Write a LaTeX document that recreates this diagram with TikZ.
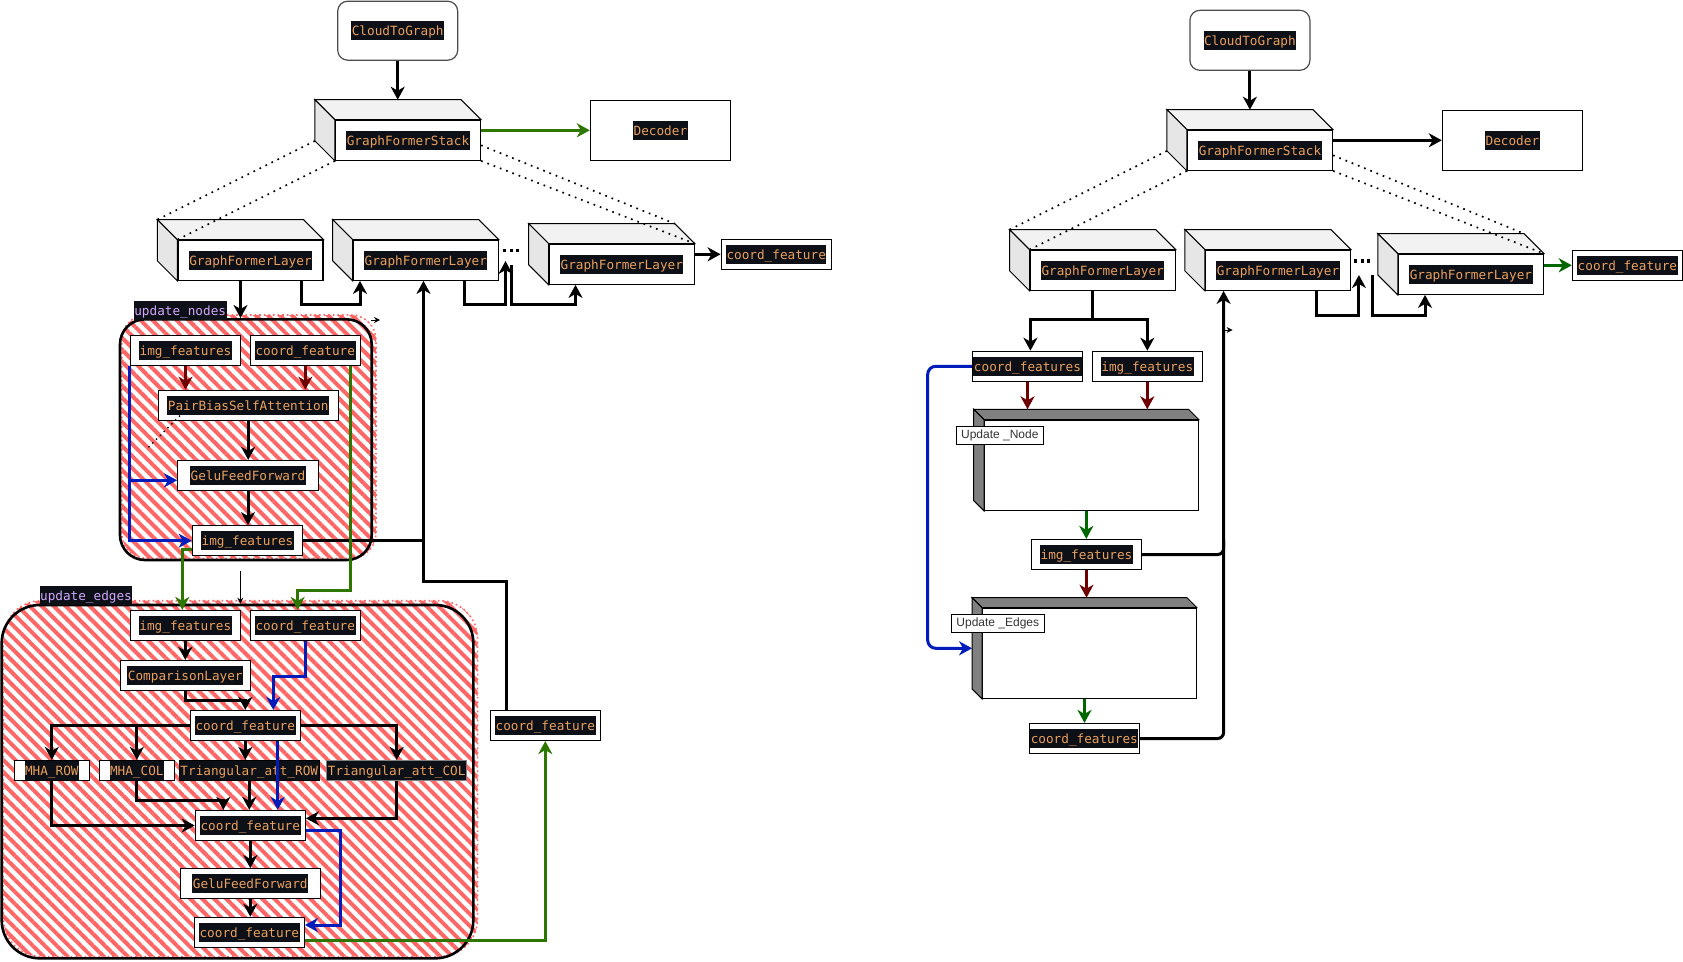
\documentclass[tikz,border=0pt]{standalone}
\usepackage{fontspec}
\setmainfont{Liberation Sans}
\setmonofont{DejaVu Sans Mono}
\usetikzlibrary{arrows.meta,patterns.meta,backgrounds}

\definecolor{codebg}{HTML}{0D1117}
\definecolor{codeor}{HTML}{EBA05C}
\definecolor{codepu}{HTML}{D2A8FF}
\definecolor{hatchred}{HTML}{FF6666}
\definecolor{darkred}{HTML}{6F0000}
\definecolor{flowblue}{HTML}{001DBC}
\definecolor{olivegreen}{HTML}{2D7600}
\definecolor{deepgreen}{HTML}{006600}
\definecolor{topface}{HTML}{F2F2F2}
\definecolor{sideface}{HTML}{E6E6E6}
\definecolor{darkface}{HTML}{808080}

% code-style label: dark strip with coloured monospace text
\newcommand{\codetag}[2]{{\setlength{\fboxsep}{0pt}\colorbox{codebg}{\hspace{0.5pt}\textcolor{#1}{\rule[-4.6pt]{0pt}{19pt}#2}\hspace{0.5pt}}}}
\newcommand{\codelbl}[1]{\codetag{codeor}{#1}}
\newcommand{\codepur}[1]{\codetag{codepu}{#1}}

% cube: name, centre x, centre y (front face), width, height, depth, top colour, side colour, text
\newcommand{\cubebox}[9]{%
  \node[wbox, minimum width=#4pt, minimum height=#5pt] (#1) at (#2,#3) {#9};
  \filldraw[fill=#7, line width=1pt] (#1.north west) -- ++(-#6,-#6) -- ([shift={(-#6,-#6)}]#1.north east) -- (#1.north east) -- cycle;
  \filldraw[fill=#8, line width=1pt] (#1.north west) -- ++(-#6,-#6) -- ([shift={(-#6,-#6)}]#1.south west) -- (#1.south west) -- cycle;
  \coordinate (#1-top) at ([shift={(-#6/2,-#6)}]#1.north);
  \coordinate (#1-bot) at ([shift={(-#6/2,0)}]#1.south);
  \coordinate (#1-lf) at ([shift={(-#6,-#6/2)}]#1.west);
}

\tikzset{
  wbox/.style={draw=black, fill=white, line width=1.2pt, inner sep=0pt},
  ctn/.style={draw=black, line width=2.6pt, inner sep=0pt},
  hatch/.style={pattern={Lines[angle=-45,distance=8.5pt,line width=4pt]}, pattern color=hatchred},
  hatchedge/.style={hatchred, line width=1.6pt, dash pattern=on 1.6pt off 3pt},
  tagbox/.style={draw=black, fill=white, line width=0.8pt, inner sep=0pt, minimum height=17.6pt,
    text=black!80, font=\rmfamily\fontsize{12}{14}\selectfont},
  tip/.style={-{Stealth[length=13pt,width=14pt,inset=4pt]}},
  blk/.style={draw=black, line width=3pt},
  blkarr/.style={blk, tip},
  redarr/.style={draw=darkred, line width=3pt, tip},
  bluearr/.style={draw=flowblue, line width=3pt, tip},
  grnL/.style={draw=olivegreen, line width=3pt, tip},
  grnR/.style={draw=deepgreen, line width=3pt, tip},
  dotline/.style={draw=black, line width=1.7pt, dash pattern=on 1.7pt off 5pt},
  thinarr/.style={draw=black, line width=0.8pt, -{Stealth[length=6pt,width=6pt]}},
}

\begin{document}
\begin{tikzpicture}[x=1pt, y=-1pt, font=\ttfamily\fontsize{12.7}{15}\selectfont]
\useasboundingbox (0,0) rectangle (1683,961);

% ================= left: detailed stack =================
\node[wbox, draw=black!70, rounded corners=10pt, minimum width=120pt, minimum height=59pt] (ctgL) at (397.7,30.7) {\codelbl{CloudToGraph}};
\cubebox{gsL}{408}{140.3}{145}{40}{20}{topface}{sideface}{\codelbl{GraphFormerStack}}
\node[wbox, minimum width=140pt, minimum height=60pt] (decL) at (660.4,130.3) {\codelbl{Decoder}};

\cubebox{glLa}{250.5}{260.3}{145}{40}{20}{topface}{sideface}{\codelbl{GraphFormerLayer}}
\cubebox{glLb}{425.8}{260.3}{145}{40}{20}{topface}{sideface}{\codelbl{GraphFormerLayer}}
\cubebox{glLc}{621.8}{264.3}{145}{40}{20}{topface}{sideface}{\codelbl{GraphFormerLayer}}
\node[wbox, minimum width=110pt, minimum height=30pt] (cfLtop) at (776.2,254.3) {\codelbl{coord\_feature}};
\foreach \i in {0,1,2} \fill (503+6.5*\i,249.2) rectangle ++(3.2,3.2);

% stack to layer guides
\draw[dotline] ([shift={(-20,-20)}]gsL.south west) -- ([shift={(-20,-20)}]glLa.north west);
\draw[dotline] (gsL.south west) -- (glLa.north west);
\draw[dotline] ([shift={(0,5)}]gsL.east) -- ([shift={(-20,-20)}]glLc.north east);
\draw[dotline] (gsL.south east) -- (glLc.north east);

% update_nodes block
\node[ctn, rounded corners=25pt, minimum width=251.7pt, minimum height=240.7pt] (un) at (245.85,439.65) {};
\begin{scope}[on background layer]
  \fill[hatch, rounded corners=25pt] ([shift={(3,-3)}]un.south west) rectangle ([shift={(3,-3)}]un.north east);
  \draw[hatchedge, rounded corners=25pt] ([shift={(3,-3)}]un.south west) rectangle ([shift={(3,-3)}]un.north east);
\end{scope}
\node[inner sep=0pt] (unLbl) at (180.2,310.5) {\codepur{update\_nodes}};

\node[wbox, minimum width=110pt, minimum height=30pt] (unImg1) at (185.5,350.3) {\codelbl{img\_features}};
\node[wbox, minimum width=110pt, minimum height=30pt] (unCf) at (305.3,350.3) {\codelbl{coord\_feature}};
\node[wbox, minimum width=180pt, minimum height=30pt] (unPb) at (248.2,405.3) {\codelbl{PairBiasSelfAttention}};
\node[wbox, minimum width=140.6pt, minimum height=30pt] (unGelu) at (248,475.5) {\codelbl{GeluFeedForward}};
\node[wbox, minimum width=110.4pt, minimum height=30pt] (unImg2) at (247.5,540.7) {\codelbl{img\_features}};

% update_edges block
\node[ctn, rounded corners=38pt, minimum width=471.6pt, minimum height=353.3pt] (ue) at (237.5,781.65) {};
\begin{scope}[on background layer]
  \fill[hatch, rounded corners=38pt] ([shift={(3,-3)}]ue.south west) rectangle ([shift={(3,-3)}]ue.north east);
  \draw[hatchedge, rounded corners=38pt] ([shift={(3,-3)}]ue.south west) rectangle ([shift={(3,-3)}]ue.north east);
\end{scope}
\node[inner sep=0pt] (ueLbl) at (86,595.2) {\codepur{update\_edges}};

\node[wbox, minimum width=110pt, minimum height=30pt] (ueImg) at (185.3,625.5) {\codelbl{img\_features}};
\node[wbox, minimum width=110pt, minimum height=30pt] (ueCf) at (305.3,625.5) {\codelbl{coord\_feature}};
\node[wbox, minimum width=130pt, minimum height=30pt] (ueCmp) at (185.3,675.5) {\codelbl{ComparisonLayer}};
\node[wbox, minimum width=110pt, minimum height=30pt] (ueCfm) at (245.3,725.5) {\codelbl{coord\_feature}};
\node[wbox, minimum width=75pt, minimum height=20pt] (mhaRow) at (51.8,770.5) {\codelbl{MHA\_ROW}};
\node[wbox, minimum width=75pt, minimum height=20pt] (mhaCol) at (136.8,770.5) {\codelbl{MHA\_COL}};
\node[wbox, minimum width=140pt, minimum height=20pt] (triRow) at (249.3,770.5) {\codelbl{Triangular\_att\_ROW}};
\node[wbox, draw=black!50, minimum width=140pt, minimum height=20pt] (triCol) at (396.7,770.5) {\codelbl{Triangular\_att\_COL}};
\node[wbox, minimum width=110pt, minimum height=30pt] (ueCfl) at (250.3,825.5) {\codelbl{coord\_feature}};
\node[wbox, minimum width=140pt, minimum height=30pt] (ueGelu) at (250.3,883.7) {\codelbl{GeluFeedForward}};
\node[wbox, minimum width=110pt, minimum height=30pt] (ueCfb) at (249.3,932.3) {\codelbl{coord\_feature}};

\node[wbox, minimum width=110pt, minimum height=30pt] (cfR1) at (545.3,725.5) {\codelbl{coord\_feature}};

% stack links
\draw[blkarr] (ctgL.south) -- (ctgL.south |- gsL-top);
\draw[grnL] (decL.west -| gsL.east) -- (decL.west);
\draw[blkarr] (cfLtop.west -| glLc.east) -- (cfLtop.west);
\draw[blkarr] (glLa-bot) -- (glLa-bot |- un.north);
\draw[blkarr] (301,0 |- glLa.south) -- (301,304.3) -| (360,0 |- glLb.south);
\coordinate (ldin) at (505.5,261);
\coordinate (ldout) at (511,265);
\draw[blkarr] (464.3,0 |- glLb.south) -- (464.3,304.3) -| (ldin);
\draw[blkarr] (ldout) -- (511,304.3) -| (575.5,0 |- glLc.south);
\draw[blkarr] (506,0 |- cfR1.north) -- (506,581) -| (423.5,0 |- glLb.south);
\draw[blk] (unImg2.east) -- (423.5,0 |- unImg2.east);
\coordinate (strayL) at (371,320);
\draw[thinarr] (strayL) -- ++(9,0);

% inside update_nodes
\draw[redarr] (unImg1.south) -- (unImg1.south |- unPb.north);
\draw[redarr] (unCf.south) -- (unCf.south |- unPb.north);
\draw[blkarr] (unPb.south) -- (unPb.south |- unGelu.north);
\draw[blkarr] (unGelu.south) -- (unGelu.south |- unImg2.north);
\draw[bluearr] (unImg1.south west) -- (unImg1.south west |- unImg2.west) -- (unImg2.west);
\draw[bluearr] (unImg1.south west |- 0,480.3) -- (unGelu.west |- 0,480.3);
\draw[dotline, line width=1.4pt, dash pattern=on 1.4pt off 4pt] (180,415.7) -- (145.7,450);

% from update_nodes to update_edges
\draw[grnL] (unImg2.west |- 0,549.3) -| (182.3,0 |- ueImg.north);
\draw[grnL] (350,0 |- unCf.south) -- (350,590) -| (297.7,0 |- ueCf.north);
\coordinate (thinA) at (240.3,571);
\draw[thinarr] (thinA) -- (thinA |- ue.north);

% inside update_edges
\draw[blkarr] (ueImg.south) -- (ueCmp.north);
\draw[blkarr] (ueCmp.south) -- ++(0,9.7) -| (ueCfm.north);
\draw[bluearr] (ueCf.south) -- (305.3,676) -| (273.3,0 |- ueCfm.north);
\draw[blkarr] (ueCfm.west) -| (mhaRow.north);
\draw[blkarr] (ueCfm.west) -| (mhaCol.north);
\draw[blkarr] (ueCfm.south) -- (ueCfm.south |- triRow.north);
\draw[blkarr] (ueCfm.east) -| (triCol.north);
\draw[blkarr] (mhaRow.south) |- (ueCfl.west);
\draw[blkarr] (mhaCol.south) -- (mhaCol.south |- 0,800) -| (223.3,0 |- ueCfl.north);
\draw[blkarr] (triRow.south) -- (triRow.south |- ueCfl.north);
\draw[blkarr] (triCol.south) |- (ueCfl.east |- 0,818.3);
\draw[bluearr] (277.7,0 |- ueCfm.south) -- (277.7,0 |- ueCfl.north);
\draw[blkarr] (ueCfl.south) -- (ueCfl.south |- ueGelu.north);
\draw[blkarr] (ueGelu.south) -- (ueGelu.south |- ueCfb.north);
\draw[bluearr] (ueCfl.east |- 0,830) -- (340.7,830) |- (ueCfb.east |- 0,925);
\draw[grnL] (ueCfb.east |- 0,940) -| (cfR1.south);

% ================= right: compact stack =================
\node[wbox, draw=black!70, rounded corners=10pt, minimum width=120pt, minimum height=60pt] (ctgR) at (1249.9,40.3) {\codelbl{CloudToGraph}};
\cubebox{gsR}{1260}{150.3}{145}{40}{20}{topface}{sideface}{\codelbl{GraphFormerStack}}
\node[wbox, minimum width=140pt, minimum height=60pt] (decR) at (1512.4,140.3) {\codelbl{Decoder}};

\cubebox{glRa}{1102.7}{270.3}{145}{40}{20}{topface}{sideface}{\codelbl{GraphFormerLayer}}
\cubebox{glRb}{1278}{270.3}{145}{40}{20}{topface}{sideface}{\codelbl{GraphFormerLayer}}
\cubebox{glRc}{1470.9}{274.3}{145}{40}{20}{topface}{sideface}{\codelbl{GraphFormerLayer}}
\node[wbox, minimum width=110pt, minimum height=30pt] (cfRtop) at (1627.4,265.3) {\codelbl{coord\_feature}};
\foreach \i in {0,1,2} \fill (1354+6.5*\i,259.4) rectangle ++(3.2,3.2);

\draw[dotline] ([shift={(-20,-20)}]gsR.south west) -- ([shift={(-20,-20)}]glRa.north west);
\draw[dotline] (gsR.south west) -- (glRa.north west);
\draw[dotline] ([shift={(0,5)}]gsR.east) -- ([shift={(-20,-20)}]glRc.north east);
\draw[dotline] (gsR.south east) -- (glRc.north east);

\node[wbox, minimum width=110pt, minimum height=30pt] (rCf) at (1027.5,366.3) {\codelbl{coord\_features}};
\node[wbox, minimum width=110pt, minimum height=30pt] (rImg) at (1147.3,366.3) {\codelbl{img\_features}};
\cubebox{unode}{1091.5}{465.3}{213.6}{90}{10.4}{darkface}{darkface}{}
\node[tagbox, minimum width=87pt] (unodeLbl) at (999.8,435.5) {Update \_Node};
\node[wbox, minimum width=110pt, minimum height=30pt] (rImg2) at (1086.5,554.5) {\codelbl{img\_features}};
\cubebox{uedge}{1089.5}{653.3}{213.6}{90}{10}{darkface}{darkface}{}
\node[tagbox, minimum width=93pt] (uedgeLbl) at (997.8,623.5) {Update \_Edges};
\node[wbox, minimum width=110pt, minimum height=30pt] (rCf2) at (1084.3,738.5) {\codelbl{coord\_features}};

\draw[blkarr] (ctgR.south) -- (ctgR.south |- gsR-top);
\draw[blkarr] (decR.west -| gsR.east) -- (decR.west);
\draw[grnR] (cfRtop.west -| glRc.east) -- (cfRtop.west);
\draw[blk] (glRa-bot) -- ++(0,29) coordinate (rsplit);
\draw[blkarr] (rsplit) -| (1030.4,0 |- rCf.north);
\draw[blkarr] (rsplit) -| (rImg.north);
\coordinate (rdin) at (1358.9,275);
\coordinate (rdout) at (1372.1,275);
\draw[blkarr] (1316,0 |- glRb.south) -- (1316,315) -| (rdin);
\draw[blkarr] (rdout) -- (1372.1,315) -| (1425,0 |- glRc.south);
\draw[blkarr, rounded corners=6pt] (rCf2.east) -| (1223.6,0 |- glRb.south);
\draw[blk, rounded corners=6pt] (rImg2.east) -| (1223.6,540);
\coordinate (tickR) at (1223.6,330);
\draw[thinarr] (tickR) -- ++(9,0);

\draw[redarr] (rCf.south) -- (rCf.south |- unode-top);
\draw[redarr] (rImg.south) -- (rImg.south |- unode-top);
\draw[grnR] (unode-bot) -- (unode-bot |- rImg2.north);
\draw[redarr] (rImg2.south) -- (rImg2.south |- uedge-top);
\draw[grnR] (uedge-bot) -- (uedge-bot |- rCf2.north);
\draw[bluearr, rounded corners=8pt] (rCf.west) -- (927.7,0 |- rCf.west) |- (uedge-lf);

\end{tikzpicture}
\end{document}
